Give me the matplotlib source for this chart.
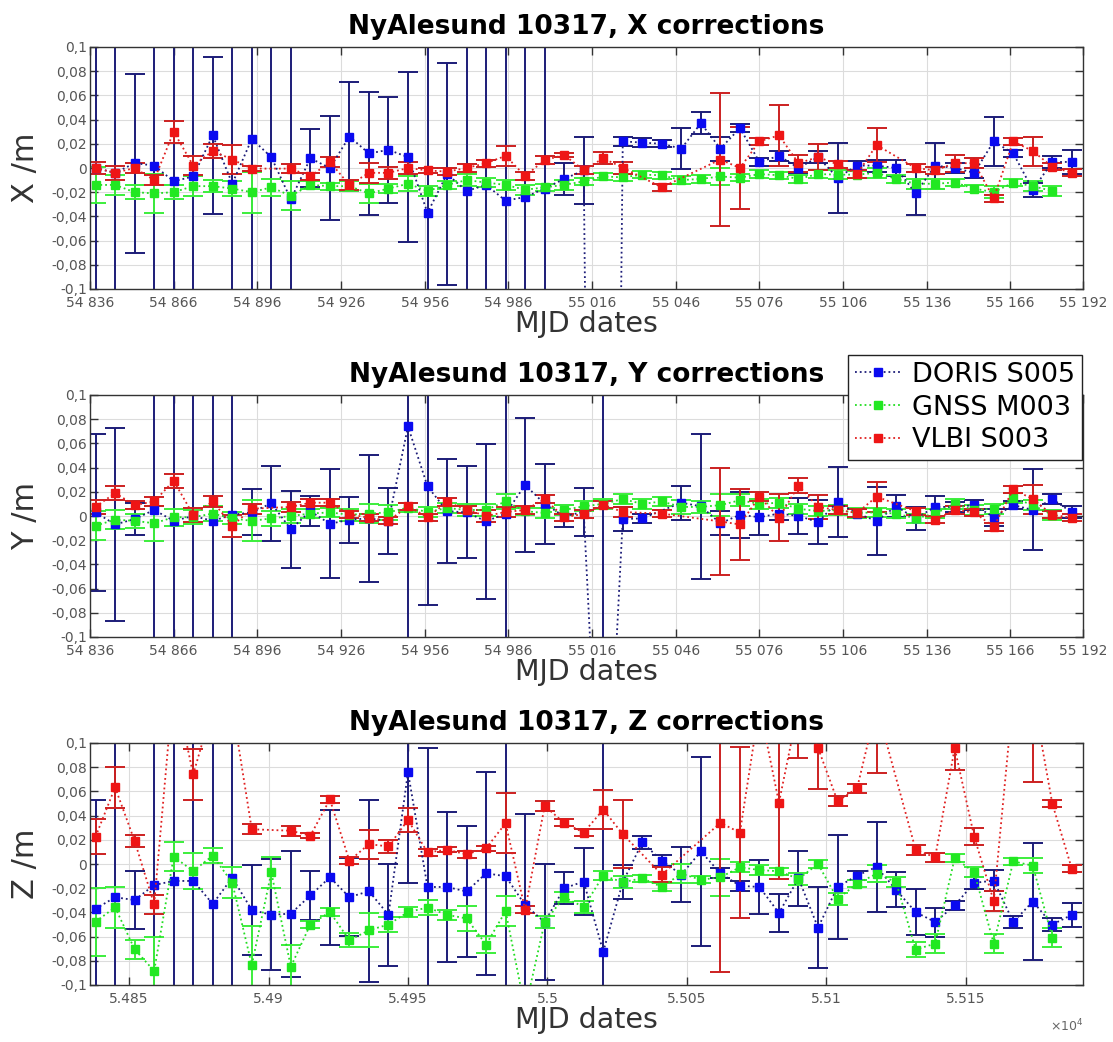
import numpy as np
import matplotlib
matplotlib.use("Agg")
from matplotlib import pyplot as plt

nan = np.nan

# weekly solution epochs (MJD)
mjd = 54838 + 7 * np.arange(51)

# ---- X corrections ----
doris_x = [0.000, -0.004, 0.004, 0.002, -0.011, -0.007, 0.027, -0.013, 0.024, 0.009,
           -0.026, 0.008, 0.000, 0.026, 0.012, 0.015, 0.009, -0.037, -0.005, -0.019,
           -0.014, -0.027, -0.024, -0.017, -0.009, -0.002, -1.5, 0.022, 0.021, 0.020,
           0.016, 0.037, 0.016, 0.033, 0.005, 0.010, 0.000, 0.009, -0.008, 0.002,
           0.002, 0.000, -0.021, 0.002, 0.000, -0.004, 0.022, 0.012, -0.018, 0.005, 0.005]
doris_x_err = [0.2, 0.2, 0.074, 0.2, 0.2, 0.2, 0.065, 0.2, 0.2, 0.2,
               0.2, 0.024, 0.043, 0.045, 0.051, 0.044, 0.070, 0.2, 0.092, 0.2,
               0.2, 0.2, 0.2, 0.2, 0.013, 0.028, 0.5, 0.004, 0.004, 0.003,
               0.017, 0.009, 0.010, 0.003, 0.003, 0.004, 0.004, 0.005, 0.029, 0.004,
               0.005, 0.007, 0.018, 0.019, 0.004, 0.004, 0.020, 0.003, 0.006, 0.005, 0.010]
gnss_x = [-0.014, -0.014, -0.020, -0.021, -0.020, -0.015, -0.015, -0.017, -0.020, -0.016,
          -0.023, -0.014, -0.015, -0.015, -0.021, -0.017, -0.013, -0.019, -0.014, -0.010,
          -0.012, -0.014, -0.018, -0.016, -0.014, -0.011, -0.007, -0.0077, -0.0055, -0.006,
          -0.010, -0.009, -0.007, -0.008, -0.005, -0.006, -0.009, -0.005, -0.0055, -0.0055,
          -0.004, -0.009, -0.013, -0.013, -0.012, -0.017, -0.020, -0.012, -0.015, -0.019, nan]
gnss_x_err = [0.015, 0.008, 0.006, 0.016, 0.006, 0.008, 0.005, 0.006, 0.017, 0.007,
              0.012, 0.003, 0.003, 0.004, 0.008, 0.004, 0.006, 0.004, 0.003, 0.005,
              0.004, 0.004, 0.004, 0.003, 0.004, 0.003, 0.003, 0.003, 0.003, 0.003,
              0.003, 0.003, 0.007, 0.003, 0.003, 0.003, 0.003, 0.003, 0.004, 0.003,
              0.004, 0.003, 0.004, 0.004, 0.003, 0.003, 0.005, 0.003, 0.004, 0.004, nan]
vlbi_x = [0.000, -0.004, 0.000, -0.010, 0.030, 0.002, 0.014, 0.007, -0.0005, nan,
          -0.0005, -0.007, 0.005, -0.014, -0.004, -0.004, 0.000, -0.002, -0.003, 0.000,
          0.004, 0.010, -0.0066, 0.0066, 0.0107, -0.0017, 0.008, 0.0003, nan, -0.016,
          nan, nan, 0.007, 0.000, 0.022, 0.027, 0.004, 0.009, 0.003, -0.005,
          0.019, nan, 0.000, -0.002, 0.004, 0.004, -0.025, 0.022, 0.014, 0.001, -0.004]
vlbi_x_err = [0.005, 0.006, 0.004, 0.004, 0.009, 0.008, 0.006, 0.012, 0.002, nan,
              0.004, 0.003, 0.004, 0.004, 0.008, 0.005, 0.005, 0.002, 0.003, 0.003,
              0.003, 0.008, 0.003, 0.003, 0.002, 0.003, 0.005, 0.005, nan, 0.003,
              nan, nan, 0.055, 0.034, 0.003, 0.025, 0.007, 0.011, 0.003, 0.003,
              0.014, nan, 0.003, 0.003, 0.007, 0.004, 0.003, 0.003, 0.012, 0.003, 0.003]

# ---- Y corrections ----
doris_y = [0.003, -0.007, -0.0025, 0.005, -0.004, 0.000, -0.004, 0.001, 0.003, 0.0105,
           -0.011, 0.004, -0.0065, -0.003, -0.002, -0.004, 0.074, 0.0245, 0.004, 0.003,
           -0.0044, 0.002, 0.0256, 0.010, -0.0003, 0.0035, -0.32, -0.0025, -0.002, nan,
           0.011, 0.008, -0.006, 0.001, -0.001, 0.002, 0.000, -0.005, 0.0115, 0.002,
           -0.004, 0.008, -0.002, 0.0075, 0.0075, 0.009, -0.001, 0.009, 0.005, 0.014, 0.003]
doris_y_err = [0.065, 0.080, 0.013, 0.2, 0.2, 0.2, 0.2, 0.2, 0.019, 0.031,
               0.032, 0.0125, 0.045, 0.019, 0.0525, 0.027, 0.2, 0.098, 0.043, 0.038,
               0.064, 0.2, 0.055, 0.033, 0.009, 0.020, 0.45, 0.010, 0.004, nan,
               0.014, 0.060, 0.010, 0.019, 0.015, 0.005, 0.0145, 0.018, 0.029, 0.004,
               0.028, 0.009, 0.0095, 0.009, 0.004, 0.004, 0.007, 0.003, 0.0335, 0.004, 0.005]
gnss_y = [-0.008, -0.003, -0.004, -0.006, -0.001, -0.001, 0.002, -0.002, -0.004, -0.002,
          0.000, 0.002, 0.003, 0.001, 0.002, 0.003, 0.007, 0.0033, 0.0066, 0.005,
          0.005, 0.012, 0.004, 0.0025, 0.005, 0.008, 0.010, 0.014, 0.010, 0.012,
          0.0075, 0.0075, 0.009, 0.013, 0.010, 0.011, 0.006, 0.004, 0.005, 0.0025,
          0.003, 0.002, -0.002, 0.002, 0.010, 0.005, 0.006, 0.015, 0.009, 0.001, nan]
gnss_y_err = [0.012, 0.008, 0.006, 0.0145, 0.007, 0.006, 0.006, 0.005, 0.017, 0.006,
              0.006, 0.004, 0.004, 0.005, 0.008, 0.006, 0.004, 0.004, 0.004, 0.005,
              0.005, 0.006, 0.003, 0.004, 0.004, 0.004, 0.004, 0.004, 0.004, 0.004,
              0.006, 0.005, 0.009, 0.005, 0.004, 0.004, 0.004, 0.004, 0.004, 0.004,
              0.004, 0.004, 0.004, 0.004, 0.004, 0.004, 0.004, 0.004, 0.004, 0.004, nan]
vlbi_y = [0.0075, 0.019, 0.009, 0.012, 0.029, 0.001, 0.012, -0.008, 0.006, nan,
          0.0075, 0.011, 0.011, 0.0015, -0.0015, -0.004, 0.008, -0.001, 0.0116, 0.0053,
          0.000, 0.0033, 0.005, 0.014, -0.001, 0.0017, 0.0093, 0.0033, nan, 0.002,
          nan, nan, -0.0045, -0.007, 0.016, -0.0015, 0.025, 0.0075, 0.005, 0.0025,
          0.016, nan, 0.004, -0.003, 0.005, 0.003, -0.009, 0.022, 0.014, 0.001, -0.0015]
vlbi_y_err = [0.006, 0.0055, 0.003, 0.004, 0.006, 0.006, 0.0045, 0.009, 0.004, nan,
              0.004, 0.003, 0.003, 0.003, 0.003, 0.003, 0.003, 0.003, 0.003, 0.003,
              0.005, 0.004, 0.003, 0.003, 0.003, 0.003, 0.003, 0.004, nan, 0.003,
              nan, nan, 0.044, 0.029, 0.004, 0.0195, 0.006, 0.010, 0.003, 0.003,
              0.0125, nan, 0.003, 0.003, 0.003, 0.003, 0.003, 0.003, 0.012, 0.003, 0.003]

# ---- Z corrections ----
doris_z = [-0.037, -0.0275, -0.0298, -0.0174, -0.014, -0.014, -0.033, -0.0113, -0.038, -0.042,
           -0.041, -0.026, -0.011, -0.0274, -0.0225, -0.042, 0.0759, -0.019, -0.019, -0.0227,
           -0.0077, -0.0101, -0.034, -0.048, -0.020, -0.0145, -0.0726, -0.015, 0.0178, 0.0027,
           -0.0088, 0.0104, -0.0077, -0.018, -0.019, -0.0405, -0.0118, -0.0526, -0.019, -0.0096,
           -0.0024, -0.0214, -0.0397, -0.048, -0.0342, -0.0156, -0.0137, -0.048, -0.031, -0.050, -0.042]
doris_z_err = [0.090, 0.2, 0.024, 0.2, 0.2, 0.2, 0.2, 0.2, 0.0375, 0.046,
               0.052, 0.020, 0.056, 0.032, 0.075, 0.042, 0.092, 0.115, 0.062, 0.054,
               0.084, 0.2, 0.075, 0.048, 0.013, 0.028, 0.2, 0.014, 0.005, 0.0045,
               0.0226, 0.078, 0.004, 0.004, 0.022, 0.0155, 0.0225, 0.0335, 0.043, 0.004,
               0.0374, 0.0145, 0.019, 0.012, 0.004, 0.005, 0.009, 0.005, 0.048, 0.005, 0.010]
gnss_z = [-0.0477, -0.0358, -0.0705, -0.0884, 0.006, -0.0058, 0.0069, -0.0155, -0.0835, -0.0069,
          -0.0849, -0.050, -0.0397, -0.063, -0.0548, -0.050, -0.0397, -0.036, -0.042, -0.045,
          -0.0666, -0.039, -0.12, -0.048, -0.0274, -0.0356, -0.0096, -0.015, -0.0118, -0.019,
          -0.008, -0.013, -0.011, -0.0027, -0.005, -0.006, -0.0123, 0.000, -0.0288, -0.0164,
          -0.008, -0.015, -0.0707, -0.0658, 0.005, -0.0068, -0.0658, 0.0022, -0.0014, -0.061, nan]
gnss_z_err = [0.028, 0.017, 0.008, 0.028, 0.012, 0.015, 0.006, 0.013, 0.032, 0.013,
              0.018, 0.003, 0.003, 0.006, 0.014, 0.006, 0.004, 0.006, 0.004, 0.010,
              0.007, 0.0125, 0.010, 0.005, 0.004, 0.005, 0.004, 0.005, 0.003, 0.003,
              0.008, 0.003, 0.0155, 0.004, 0.004, 0.003, 0.005, 0.003, 0.005, 0.003,
              0.007, 0.004, 0.006, 0.008, 0.003, 0.004, 0.008, 0.003, 0.006, 0.008, nan]
vlbi_z = [0.0226, 0.0634, 0.019, -0.0333, 0.15, 0.074, 0.13, 0.13, 0.0287, nan,
          0.0275, 0.0234, 0.0534, 0.0027, 0.0164, 0.0145, 0.0364, 0.0096, 0.0118, 0.008,
          0.013, 0.0337, -0.0378, 0.048, 0.034, 0.026, 0.045, 0.0247, nan, -0.0088,
          nan, nan, 0.034, 0.026, 0.13, 0.0507, 0.13, 0.0959, 0.052, 0.0625,
          0.13, nan, 0.0118, 0.0055, 0.0959, 0.0225, -0.0307, 0.14, 0.14, 0.0499, -0.004]
vlbi_z_err = [0.0145, 0.017, 0.005, 0.008, 0.02, 0.021, 0.02, 0.02, 0.004, nan,
              0.004, 0.002, 0.003, 0.003, 0.012, 0.005, 0.010, 0.003, 0.002, 0.003,
              0.002, 0.025, 0.003, 0.004, 0.003, 0.003, 0.016, 0.028, nan, 0.006,
              nan, nan, 0.123, 0.071, 0.02, 0.0635, 0.042, 0.034, 0.004, 0.004,
              0.055, nan, 0.004, 0.004, 0.018, 0.007, 0.008, 0.01, 0.072, 0.003, 0.003]

# technique: (label, marker colour, errorbar colour, dotted line colour)
STYLES = [
    ("DORIS S005", "#0a0af0", "#1c1c78", "#1c1c78"),
    ("GNSS M003", "#22e822", "#3cee3c", "#22dd22"),
    ("VLBI S003", "#ee1515", "#cc2020", "#e02020"),
]

PANELS = [
    ("X", [(doris_x, doris_x_err), (gnss_x, gnss_x_err), (vlbi_x, vlbi_x_err)]),
    ("Y", [(doris_y, doris_y_err), (gnss_y, gnss_y_err), (vlbi_y, vlbi_y_err)]),
    ("Z", [(doris_z, doris_z_err), (gnss_z, gnss_z_err), (vlbi_z, vlbi_z_err)]),
]

W, H = 1113, 1042
LEFT, RIGHT = 90, 1083
TOPS = [47, 395, 743]
AX_H = 242

yticks = np.round(np.arange(-0.1, 0.1001, 0.02), 2)
ylabels = []
for v in yticks:
    s = "0" if v == 0 else f"{v:g}".replace(".", ",")
    ylabels.append(s)


def draw_panel(ax, comp, series, last):
    handles = []
    for (vals, errs), (label, mcol, ecol, lcol) in zip(series, STYLES):
        y = np.array(vals, dtype=float)
        e = np.array(errs, dtype=float)
        ok = ~np.isnan(y)
        ax.errorbar(mjd[ok], y[ok], yerr=e[ok], fmt="none", ecolor=ecol,
                    elinewidth=1.4, capsize=7, capthick=1.4, zorder=2)
        h, = ax.plot(mjd[ok], y[ok], linestyle=":", linewidth=1.3, color=lcol,
                     marker="s", markersize=5.5, mfc=mcol, mec=mcol, label=label, zorder=3)
        handles.append(h)

    ax.set_xlim(54836, 55192)
    ax.set_ylim(-0.1, 0.1)
    ax.set_yticks(yticks)
    ax.set_yticklabels(ylabels)
    if last:
        xt = np.arange(54850, 55151, 50)
        ax.set_xticks(xt)
        ax.set_xticklabels([f"{v / 1e4:g}" for v in xt])
        ax.text(1.0, -0.17, r"$\times10^{4}$", transform=ax.transAxes,
                ha="right", va="center", fontsize=9, color="#666666")
    else:
        xt = list(range(54836, 55167, 30)) + [55192]
        ax.set_xticks(xt)
        ax.set_xticklabels([f"{v // 1000} {v % 1000:03d}" for v in xt])

    ax.grid(True, color="#dcdcdc", linewidth=0.8)
    ax.set_axisbelow(True)
    ax.tick_params(direction="in", top=True, right=True, length=6, width=1,
                   color="#333333", labelsize=10, labelcolor="#555555")
    ax.tick_params(axis="x", pad=5)
    ax.tick_params(axis="y", pad=2)
    for sp in ax.spines.values():
        sp.set_color("#333333")
        sp.set_linewidth(1.0)

    ax.set_title(f"NyAlesund 10317, {comp} corrections", fontsize=19,
                 fontweight="bold", pad=9)
    ax.set_xlabel("MJD dates", fontsize=20.5, color="#333333", labelpad=0)
    ax.set_ylabel(f"{comp} /m", fontsize=22, color="#333333", labelpad=8)
    return handles


fig = plt.figure(figsize=(W / 100, H / 100), dpi=100)
for i, (comp, series) in enumerate(PANELS):
    top = TOPS[i]
    ax = fig.add_axes([LEFT / W, 1 - (top + AX_H) / H, (RIGHT - LEFT) / W, AX_H / H])
    hs = draw_panel(ax, comp, series, i == 2)
    if i == 1:
        leg = ax.legend(handles=hs, loc="upper right", bbox_to_anchor=(1082 / W, 1 - 355 / H),
                        bbox_transform=fig.transFigure, fontsize=19.5, frameon=True,
                        fancybox=False, edgecolor="#222222", framealpha=1,
                        borderpad=0.25, labelspacing=0.25, handlelength=1.7,
                        handletextpad=0.4, borderaxespad=0)
        leg.get_frame().set_linewidth(1.0)
        leg.set_zorder(10)

fig.savefig("out.png", dpi=100)
